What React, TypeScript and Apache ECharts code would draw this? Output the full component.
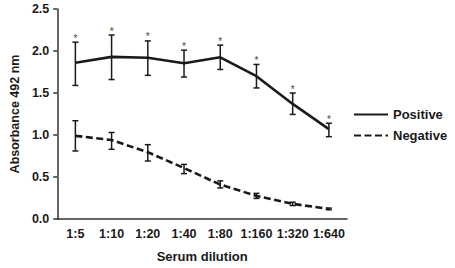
import React, { useEffect, useRef } from "react";
import * as echarts from "echarts";

const categories = ["1:5", "1:10", "1:20", "1:40", "1:80", "1:160", "1:320", "1:640"];
const positiveMean = [1.86, 1.93, 1.92, 1.855, 1.925, 1.70, 1.37, 1.07];
const positiveLow = [1.59, 1.66, 1.71, 1.69, 1.78, 1.56, 1.245, 0.98];
const positiveHigh = [2.105, 2.19, 2.12, 2.01, 2.07, 1.84, 1.50, 1.14];
const negativeMean = [0.99, 0.94, 0.795, 0.607, 0.41, 0.275, 0.18, 0.12];
const negativeLow = [0.81, 0.83, 0.69, 0.54, 0.37, 0.245, 0.16, 0.11];
const negativeHigh = [1.17, 1.03, 0.885, 0.65, 0.454, 0.305, 0.20, 0.13];
const yTicks = { min: 0, max: 2.5, interval: 0.5 };

const FONT = "'Liberation Sans', Arial, sans-serif";
const INK = "#1a1a1a";

function errorSeries(name: string, low: number[], high: number[], star: boolean) {
  return {
    type: "custom",
    name: name + "-err",
    silent: true,
    z: 3,
    itemStyle: { color: INK },
    data: low.map((l, i) => [i, l, high[i]]),
    encode: { x: 0, y: [1, 2] },
    renderItem: (params: any, api: any) => {
      const i = api.value(0);
      const lo = api.coord([i, api.value(1)]);
      const hi = api.coord([i, api.value(2)]);
      const cap = 3;
      const st = { stroke: INK, lineWidth: 1.5 };
      const children: any[] = [
        { type: "line", shape: { x1: lo[0], y1: lo[1], x2: hi[0], y2: hi[1] }, style: st },
        { type: "line", shape: { x1: lo[0] - cap, y1: lo[1], x2: lo[0] + cap, y2: lo[1] }, style: st },
        { type: "line", shape: { x1: hi[0] - cap, y1: hi[1], x2: hi[0] + cap, y2: hi[1] }, style: st },
      ];
      if (star) {
        children.push({
          type: "text",
          style: {
            text: "*",
            x: hi[0],
            y: hi[1] + 1,
            align: "center",
            verticalAlign: "bottom",
            fontSize: 10,
            fontFamily: FONT,
            fill: "#444",
          },
        });
      }
      return { type: "group", children };
    },
  };
}

export default function App() {
  const ref = useRef<HTMLDivElement>(null);
  useEffect(() => {
    if (!ref.current) return;
    const chart = echarts.init(ref.current, null, { renderer: "svg" });
    chart.setOption({
      animation: false,
      backgroundColor: "#ffffff",
      grid: { left: 46, right: 108, top: 9, bottom: 45.3, containLabel: false },
      legend: {
        orient: "vertical",
        left: 353,
        top: 108,
        padding: 0,
        itemWidth: 34,
        itemHeight: 14,
        itemGap: 8,
        data: ["Positive", "Negative"],
        itemStyle: { opacity: 0 },
        textStyle: { fontFamily: FONT, fontSize: 13, fontWeight: "bold", color: INK },
      },
      xAxis: {
        type: "category",
        data: categories,
        name: "Serum dilution",
        nameLocation: "middle",
        nameGap: 31,
        nameTextStyle: { fontFamily: FONT, fontSize: 13, fontWeight: "bold", color: INK },
        axisLine: { lineStyle: { color: "#333", width: 1.5 } },
        axisTick: { length: 4, interval: 0, lineStyle: { color: "#333", width: 1.5 } },
        axisLabel: { interval: 0, fontFamily: FONT, fontSize: 12.5, fontWeight: "bold", color: INK, margin: 8 },
        splitLine: { show: false },
      },
      yAxis: {
        type: "value",
        min: yTicks.min,
        max: yTicks.max,
        interval: yTicks.interval,
        name: "Absorbance 492 nm",
        nameLocation: "middle",
        nameGap: 36,
        nameTextStyle: { fontFamily: FONT, fontSize: 12.5, fontWeight: "bold", color: INK },
        axisLine: { show: true, lineStyle: { color: "#333", width: 1.5 } },
        axisTick: { show: true, length: 4, lineStyle: { color: "#333", width: 1.5 } },
        axisLabel: {
          fontFamily: FONT,
          fontSize: 12.5,
          fontWeight: "bold",
          color: INK,
          margin: 8,
          formatter: (v: number) => v.toFixed(1),
        },
        splitLine: { show: false },
      },
      series: [
        {
          name: "Positive",
          type: "line",
          data: positiveMean,
          symbol: "none",
          z: 4,
          lineStyle: { color: INK, width: 2.6, type: "solid" },
          itemStyle: { color: INK },
        },
        {
          name: "Negative",
          type: "line",
          data: negativeMean,
          symbol: "none",
          z: 4,
          lineStyle: { color: INK, width: 2.6, type: [7, 3.5] },
          itemStyle: { color: INK },
        },
        errorSeries("Positive", positiveLow, positiveHigh, true),
        errorSeries("Negative", negativeLow, negativeHigh, false),
      ],
    });
    return () => chart.dispose();
  }, []);
  return <div ref={ref} style={{ position: "fixed", left: 0, top: 0, width: 455, height: 268 }} />;
}
